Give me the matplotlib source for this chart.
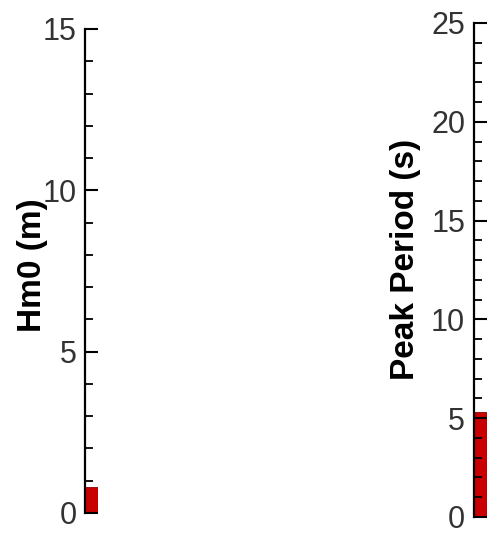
import matplotlib
matplotlib.use('Agg')
import matplotlib.pyplot as plt
from matplotlib.ticker import MultipleLocator

plt.rcParams['font.family'] = ['Liberation Sans', 'DejaVu Sans']

# gauge values
labels = ['Hm0 (m)', 'Peak Period (s)']
values = [0.8, 5.3]
limits = [15, 25]
major_steps = [5, 5]

BAR_RED = '#c80000'

W, H = 500, 533
fig = plt.figure(figsize=(W / 100, H / 100), dpi=100)

# pixel boxes: left edge, bottom (value 0), top (max value), label right edge / centre
boxes = [dict(x=85, y0=513, y1=29, lx=48, ly=265),
         dict(x=473.5, y0=517, y1=23, lx=421, ly=259)]
barw = 13

for lab, val, lim, step, b in zip(labels, values, limits, major_steps, boxes):
  ax = fig.add_axes([b['x'] / W, (H - b['y0']) / H, barw / W, (b['y0'] - b['y1']) / H])
  ax.bar([0.5], [val], width=1.0, color=BAR_RED, edgecolor='#900000', linewidth=0.6)
  ax.set_xlim(0, 1)
  ax.set_ylim(0, lim)
  for side in ('top', 'right', 'bottom'):
    ax.spines[side].set_visible(False)
  ax.spines['left'].set_linewidth(1.6)
  ax.set_xticks([])
  ax.yaxis.set_major_locator(MultipleLocator(step))
  ax.yaxis.set_minor_locator(MultipleLocator(1))
  ax.tick_params(axis='y', which='major', direction='in', length=9, width=1.5,
                 labelsize=22, pad=6, labelcolor='#333333')
  ax.tick_params(axis='y', which='minor', direction='in', length=6, width=1.3)
  for t in ax.get_yticklabels():
    t.set_fontstretch('condensed')
  ax.patch.set_visible(False)
  ax.set_ylabel(lab, fontsize=24, fontweight='bold')
  ax.yaxis.set_label_coords(b['lx'] / W, (H - b['ly']) / H, transform=fig.transFigure)

fig.savefig('out.png', dpi=100)
